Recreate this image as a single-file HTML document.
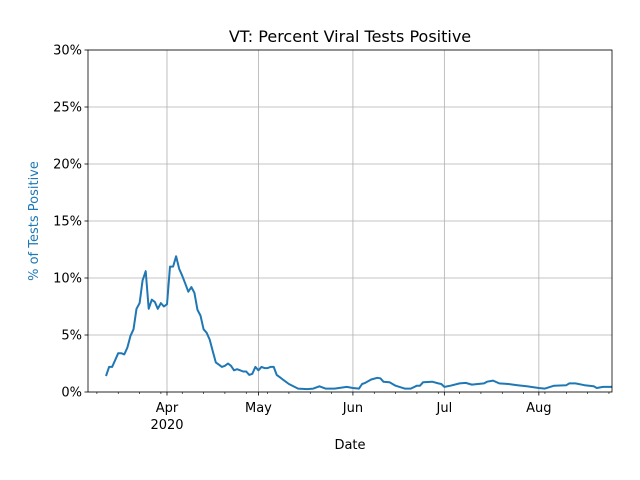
<!DOCTYPE html>
<html><head><meta charset="utf-8"><style>
html,body{margin:0;padding:0;background:#fff;}
svg{display:block;font-family:"DejaVu Sans","Liberation Sans",sans-serif;}
</style></head><body>
<svg id="chart" width="640" height="480" viewBox="0 0 640 480" xmlns="http://www.w3.org/2000/svg">
<rect width="640" height="480" fill="#fff"/>
<text x="350" y="42" text-anchor="middle" font-size="16">VT: Percent Viral Tests Positive</text>
<text x="38" y="221" text-anchor="middle" font-size="13" fill="#1f77b4" transform="rotate(-90 38 221)">% of Tests Positive</text>
<text x="350" y="449" text-anchor="middle" font-size="13">Date</text>
<g id="grid"></g><g id="series"></g><g id="axes"></g>
</svg>
<script>
const dates = ["2020-03-12","2020-03-13","2020-03-14","2020-03-15","2020-03-16","2020-03-17","2020-03-18","2020-03-19","2020-03-20","2020-03-21","2020-03-22","2020-03-23","2020-03-24","2020-03-25","2020-03-26","2020-03-27","2020-03-28","2020-03-29","2020-03-30","2020-03-31","2020-04-01","2020-04-02","2020-04-03","2020-04-04","2020-04-05","2020-04-06","2020-04-07","2020-04-08","2020-04-09","2020-04-10","2020-04-11","2020-04-12","2020-04-13","2020-04-14","2020-04-15","2020-04-16","2020-04-17","2020-04-18","2020-04-19","2020-04-20","2020-04-21","2020-04-22","2020-04-23","2020-04-24","2020-04-25","2020-04-26","2020-04-27","2020-04-28","2020-04-29","2020-04-30","2020-05-01","2020-05-02","2020-05-03","2020-05-04","2020-05-05","2020-05-06","2020-05-07","2020-05-08","2020-05-09","2020-05-11","2020-05-14","2020-05-17","2020-05-19","2020-05-21","2020-05-23","2020-05-26","2020-05-30","2020-06-01","2020-06-03","2020-06-04","2020-06-05","2020-06-07","2020-06-09","2020-06-10","2020-06-11","2020-06-13","2020-06-15","2020-06-18","2020-06-20","2020-06-22","2020-06-23","2020-06-24","2020-06-27","2020-06-29","2020-06-30","2020-07-01","2020-07-03","2020-07-06","2020-07-08","2020-07-10","2020-07-14","2020-07-15","2020-07-17","2020-07-19","2020-07-22","2020-07-25","2020-07-28","2020-08-01","2020-08-03","2020-08-06","2020-08-10","2020-08-11","2020-08-13","2020-08-16","2020-08-19","2020-08-20","2020-08-22","2020-08-24","2020-08-25"];
const pctPositive = [1.4,2.2,2.2,2.8,3.4,3.4,3.3,3.9,4.9,5.5,7.3,7.8,9.8,10.6,7.3,8.1,7.9,7.3,7.8,7.5,7.7,11.0,11.0,11.9,10.8,10.2,9.5,8.8,9.2,8.7,7.2,6.7,5.5,5.2,4.6,3.6,2.6,2.4,2.2,2.3,2.5,2.3,1.9,2.0,1.9,1.8,1.8,1.5,1.6,2.2,1.9,2.2,2.1,2.1,2.2,2.2,1.5,1.3,1.1,0.7,0.3,0.25,0.3,0.5,0.3,0.3,0.45,0.35,0.3,0.7,0.8,1.1,1.25,1.2,0.9,0.85,0.55,0.3,0.3,0.55,0.55,0.85,0.9,0.75,0.7,0.45,0.55,0.75,0.8,0.65,0.75,0.9,1.0,0.75,0.7,0.6,0.5,0.35,0.3,0.55,0.6,0.75,0.75,0.6,0.5,0.35,0.45,0.45,0.45];
const yTicks = [0,5,10,15,20,25,30];
const monthTicks = ["2020-04-01","2020-05-01","2020-06-01","2020-07-01","2020-08-01"];
const monthLabels = ["Apr","May","Jun","Jul","Aug"];
const weekTicks = ["2020-03-09","2020-03-16","2020-03-23","2020-03-30","2020-04-06","2020-04-13","2020-04-20","2020-04-27","2020-05-04","2020-05-11","2020-05-18","2020-05-25","2020-06-08","2020-06-15","2020-06-22","2020-06-29","2020-07-06","2020-07-13","2020-07-20","2020-07-27","2020-08-03","2020-08-10","2020-08-17","2020-08-24"];

const L=88,R=612,T=50,B=392;
const d0=Date.UTC(2020,2,6,2,0), d1=Date.UTC(2020,7,25,0,0);
function dv(s){const p=s.split('-');return Date.UTC(+p[0],+p[1]-1,+p[2]);}
function xs(s){return L+(dv(s)-d0)/(d1-d0)*(R-L);}
function ys(v){return B-(v/30)*(B-T);}
const NS="http://www.w3.org/2000/svg";
function mk(tag,attrs,parent){const e=document.createElementNS(NS,tag);for(const k in attrs)e.setAttribute(k,attrs[k]);parent.appendChild(e);return e;}
const grid=document.getElementById('grid'),axes=document.getElementById('axes'),series=document.getElementById('series');

yTicks.forEach(v=>{
  const y=ys(v);
  const g=mk('line',{x1:L,x2:R,y1:y,y2:y,stroke:'#b0b0b0','stroke-width':0.8},grid);
  
  
  const t=mk('line',{x1:L-3.5,x2:L,y1:y,y2:y,stroke:'#000','stroke-width':0.8},axes);
  
  
  const lb=mk('text',{x:L-6,y:y+4.5,'text-anchor':'end','font-size':13},axes);
  lb.textContent=v+'%';
  
  
});
monthTicks.forEach((d,i)=>{
  const x=xs(d);
  const g=mk('line',{x1:x,x2:x,y1:T,y2:B,stroke:'#b0b0b0','stroke-width':0.8},grid);
  
  
  const t=mk('line',{x1:x,x2:x,y1:B,y2:B+3.5,stroke:'#000','stroke-width':0.8},axes);
  
  
  const lb=mk('text',{x:x,y:B+20,'text-anchor':'middle','font-size':13},axes);
  lb.textContent=monthLabels[i];
  
  
});
weekTicks.forEach(d=>{
  const x=xs(d);
  if(x<L||x>R)return;
  const t=mk('line',{x1:x,x2:x,y1:B,y2:B+2,stroke:'#000','stroke-width':0.6},axes);
  
  
});
const yr=mk('text',{x:xs("2020-04-01"),y:B+37,'text-anchor':'middle','font-size':13},axes);
yr.textContent='2020';


const frame=mk('rect',{x:L,y:T,width:R-L,height:B-T,fill:'none',stroke:'#000','stroke-width':0.8},axes);



const pts=dates.map((d,i)=>xs(d).toFixed(1)+','+ys(pctPositive[i]).toFixed(1)).join(' ');
const line=mk('polyline',{points:pts,fill:'none',stroke:'#1f77b4','stroke-width':2,'stroke-linejoin':'round'},series);


</script>
</body></html>
